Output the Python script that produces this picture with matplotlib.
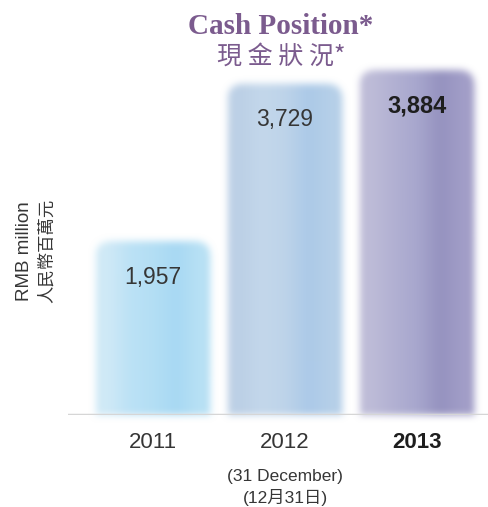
import numpy as np
import matplotlib
matplotlib.use("Agg")
import matplotlib.pyplot as plt
from matplotlib.patches import FancyBboxPatch

years = ["2011", "2012", "2013"]
cash = [1957, 3729, 3884]
value_labels = ["1,957", "3,729", "3,884"]
date_note_en = "(31 December)"
date_note_zh = "(12月31日)"
title_en = "Cash Position*"
title_zh = "現 金 狀 況*"
unit_en = "RMB million"
unit_zh = "人民幣百萬元"

# left-to-right shading of each bar
shades = [
    [(208, 234, 247), (188, 226, 246), (180, 223, 245), (168, 217, 243), (184, 225, 245)],
    [(188, 208, 230), (196, 216, 236), (190, 212, 234), (172, 202, 232), (182, 208, 233)],
    [(190, 188, 216), (178, 177, 211), (168, 167, 206), (150, 147, 192), (162, 158, 200)],
]

plt.rcParams["font.family"] = ["Liberation Sans", "Noto Sans CJK TC", "DejaVu Sans"]
purple = "#7b5b8e"
text_grey = "#363636"


def _box(a, r, axis):
    k = 2 * r + 1
    pads = [(r + 1, r) if i == axis else (0, 0) for i in range(a.ndim)]
    c = np.cumsum(np.pad(a, pads, mode="edge"), axis=axis)
    n = c.shape[axis]
    return (np.take(c, range(k, n), axis=axis) - np.take(c, range(0, n - k), axis=axis)) / k


def soft_edges(radius, passes=3):
    def _filter(img, dpi):
        pad = radius * passes * 2
        a = np.pad(img, ((pad, pad), (pad, pad), (0, 0)))
        alpha = a[..., 3:4]
        stack = np.concatenate([a[..., :3] * alpha, alpha], axis=2)
        for _ in range(passes):
            stack = _box(stack, radius, 0)
            stack = _box(stack, radius, 1)
        alpha = stack[..., 3:4]
        rgb = np.where(alpha > 1e-4, stack[..., :3] / np.maximum(alpha, 1e-4), 0)
        out = np.concatenate([np.clip(rgb, 0, 1), np.clip(alpha, 0, 1)], axis=2)
        return out, -pad, -pad
    return _filter


fig = plt.figure(figsize=(4.89, 5.07), dpi=100)
ax = fig.add_axes([68 / 489, 92 / 507, 1 - 68 / 489, 415 / 507])
ax.set_xlim(-0.644, 2.545)
ax.set_ylim(0, 4672)

# y data units per x data unit for one screen pixel, so corners stay round
px_x = 3.189 / 421
px_y = 4672 / 415
width = 0.87
for i, (v, cols) in enumerate(zip(cash, shades)):
    grad = np.array([cols], dtype=np.uint8)
    im = ax.imshow(grad, extent=(i - width / 2, i + width / 2, 0, v),
                   aspect="auto", interpolation="bilinear", zorder=2)
    top = FancyBboxPatch((i - width / 2, -400), width, v + 400,
                         boxstyle="round,pad=0,rounding_size=%.3f" % (16 * px_x),
                         mutation_aspect=px_y / px_x, transform=ax.transData)
    im.set_clip_path(top)
    im.set_agg_filter(soft_edges(3))

ax.set_xlim(-0.644, 2.545)
ax.set_ylim(0, 4672)
ax.axhline(0, color="#d6d6d6", lw=2.5, zorder=3)

for s in ax.spines.values():
    s.set_visible(False)
ax.set_yticks([])
ax.set_xticks(range(len(years)), years)
ax.tick_params(axis="x", length=0, pad=12, labelsize=16, labelcolor=text_grey)
ax.get_xticklabels()[-1].set_fontweight("bold")
ax.get_xticklabels()[-1].set_color("#1e1e1e")

for i, (v, lab) in enumerate(zip(cash, value_labels)):
    last = i == len(cash) - 1
    ax.annotate(lab, (i, v), xytext=(0, -36), textcoords="offset pixels",
                ha="center", va="center", fontsize=17 if last else 16.5,
                fontweight="bold" if last else "normal",
                color="#1e1e1e" if last else text_grey, zorder=4)

ax.annotate(date_note_en, (1, 0), xytext=(0, -62), textcoords="offset pixels",
            ha="center", va="center", fontsize=12.5, color=text_grey,
            annotation_clip=False)
ax.annotate(date_note_zh, (1, 0), xytext=(0, -82), textcoords="offset pixels",
            ha="center", va="center", fontsize=12.5, color=text_grey,
            annotation_clip=False)

fig.text(281 / 489, 1 - 26 / 507, title_en, ha="center", va="center",
         family="Liberation Serif", fontweight="bold", fontsize=21, color=purple)
fig.text(281 / 489, 1 - 57 / 507, title_zh, ha="center", va="center",
         family=["Noto Sans CJK TC", "DejaVu Sans"], fontsize=18, color=purple)

fig.text(25 / 489, 1 - 251 / 507, unit_en, rotation=90, ha="center", va="center",
         fontsize=13.5, color=text_grey)
fig.text(47 / 489, 1 - 251 / 507, unit_zh, rotation=90, ha="center", va="center",
         family=["Noto Sans CJK TC", "DejaVu Sans"], fontsize=12.5, color=text_grey)

fig.savefig("out.png", dpi=100)
